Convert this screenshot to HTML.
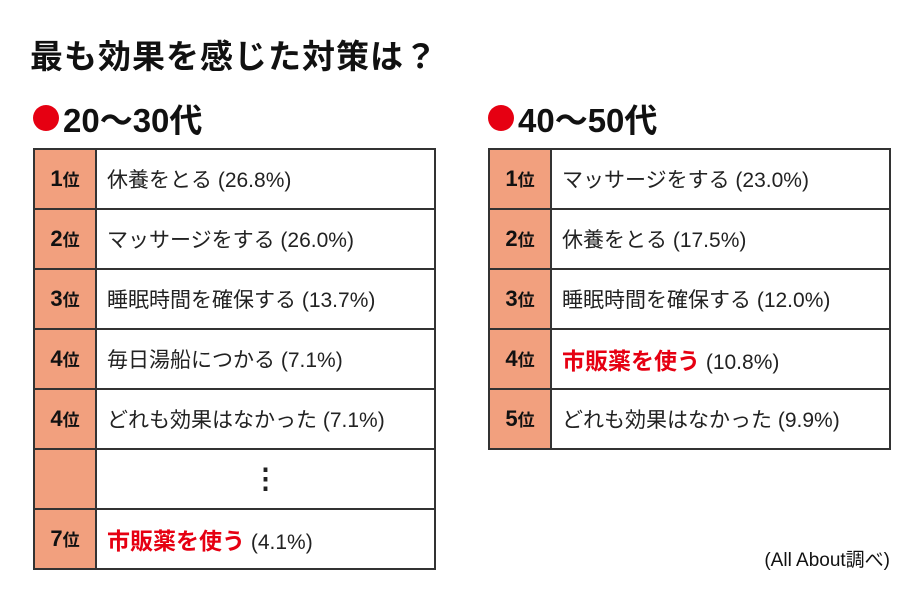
<!DOCTYPE html>
<html><head><meta charset="utf-8">
<style>
body{margin:0;width:923px;height:600px;background:#fff;font-family:"Liberation Sans","Noto Sans CJK JP",sans-serif;color:#222;position:relative;overflow:hidden}
.title{position:absolute;left:30px;top:30px;font-size:33px;font-weight:bold;color:#111;letter-spacing:1px}
.sec{position:absolute;top:94px;font-size:33px;font-weight:bold;color:#111;display:flex;align-items:center}
.sec .dot{display:inline-block;width:26px;height:26px;border-radius:50%;background:#e60012;margin-right:4px}
table{position:absolute;top:148px;border-collapse:collapse;width:403px}
td{border:2px solid #333;height:58px;box-sizing:border-box;padding:0;font-size:21px}
tr{height:60px}
td.r{width:62px;background:#f2a07e;text-align:center;font-weight:bold;font-size:22px;color:#111}
td.r small{font-size:17px}
td.t{padding-left:10px;color:#222}
.red{color:#e60012;font-weight:bold;font-size:23px}
.foot{position:absolute;right:33px;top:545px;font-size:19px;color:#111}
</style></head><body>
<div class="title">最も効果を感じた対策は？</div>
<div class="sec" style="left:33px"><span class="dot"></span>20〜30代</div>
<div class="sec" style="left:488px"><span class="dot"></span>40〜50代</div>
<table style="left:33px">
<tr><td class="r">1<small>位</small></td><td class="t">休養をとる (26.8%)</td></tr>
<tr><td class="r">2<small>位</small></td><td class="t">マッサージをする (26.0%)</td></tr>
<tr><td class="r">3<small>位</small></td><td class="t">睡眠時間を確保する (13.7%)</td></tr>
<tr><td class="r">4<small>位</small></td><td class="t">毎日湯船につかる (7.1%)</td></tr>
<tr><td class="r">4<small>位</small></td><td class="t">どれも効果はなかった (7.1%)</td></tr>
<tr><td class="r"></td><td class="t" style="text-align:center;font-size:28px;font-weight:bold;line-height:10px;padding-left:0">&#8942;</td></tr>
<tr><td class="r">7<small>位</small></td><td class="t"><span class="red">市販薬を使う</span> (4.1%)</td></tr>
</table>
<table style="left:488px">
<tr><td class="r">1<small>位</small></td><td class="t">マッサージをする (23.0%)</td></tr>
<tr><td class="r">2<small>位</small></td><td class="t">休養をとる (17.5%)</td></tr>
<tr><td class="r">3<small>位</small></td><td class="t">睡眠時間を確保する (12.0%)</td></tr>
<tr><td class="r">4<small>位</small></td><td class="t"><span class="red">市販薬を使う</span> (10.8%)</td></tr>
<tr><td class="r">5<small>位</small></td><td class="t">どれも効果はなかった (9.9%)</td></tr>
</table>
<div class="foot">(All About調べ)</div>
</body></html>
